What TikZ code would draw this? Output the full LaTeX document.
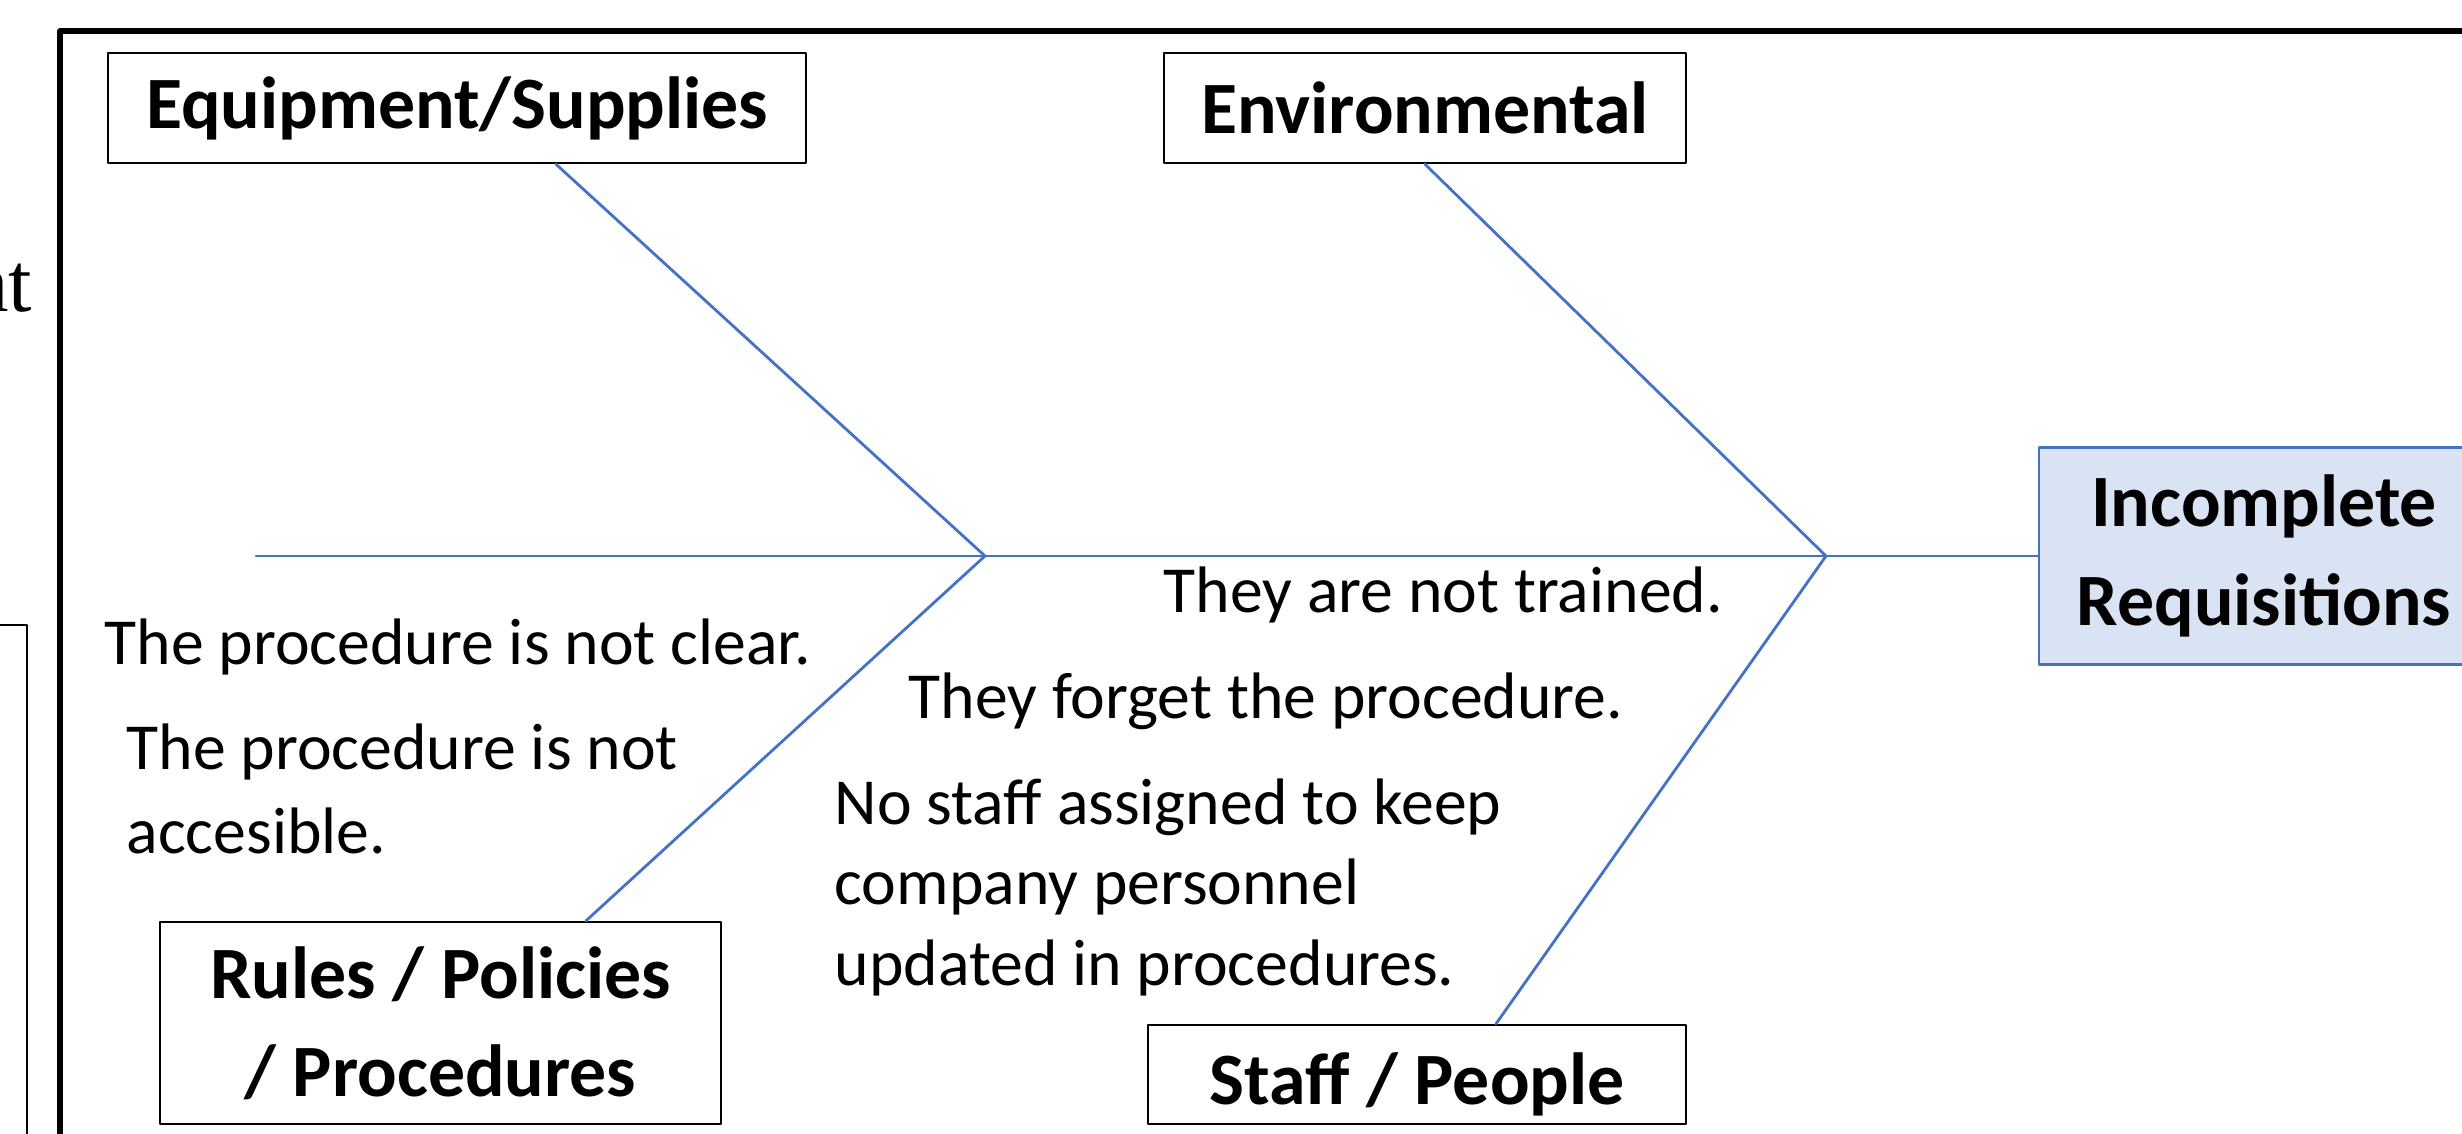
\documentclass[tikz,border=0pt]{standalone}
\usepackage{fontspec}
\setmainfont{Carlito}
\newfontfamily\pageserif{Liberation Serif}
\usetikzlibrary{calc}

\definecolor{boneblue}{HTML}{4472C4}
\definecolor{effectfill}{HTML}{DAE3F3}

\newcommand{\causefont}{\fontsize{18.7}{22.8}\selectfont}
\newcommand{\headfont}{\fontsize{21}{28}\selectfont\bfseries}

\begin{document}
\begin{tikzpicture}[line cap=round,line join=round,x=1cm,y=1cm,
        bone/.style={line width=0.8pt,color=boneblue},
        headbox/.style={draw=black,line width=0.7pt,fill=white,inner sep=0pt,font=\headfont},
        effectbox/.style={draw=boneblue,line width=0.8pt,fill=effectfill,inner sep=0pt,font=\headfont},
        cause/.style={inner sep=0pt,font=\causefont}]
        \useasboundingbox (0,0) rectangle (24.62,11.33);
        % page around the diagram
        \draw [line width=1.6pt,color=black] (0.60,-1)-- (0.60,11.02)-- (26,11.02);
        \draw [line width=0.6pt,color=black] (-1,5.08)-- (0.27,5.08)-- (0.27,-1);
        \node [anchor=base east,inner sep=0pt,font=\pageserif\fontsize{24}{28}\selectfont] (pagetext) at (0.33,8.22) {at};
        % category boxes
        \node [headbox,minimum width=6.98cm,minimum height=1.10cm] (equip) at (4.57,10.25) {Equipment/Supplies};
        \node [headbox,minimum width=5.22cm,minimum height=1.10cm] (envir) at (14.25,10.25) {Environmental};
        \node [headbox,minimum width=5.61cm,minimum height=2.02cm,align=center] (rules) at (4.405,1.10) {Rules / Policies\\/ Procedures};
        \node [headbox,minimum width=5.38cm,minimum height=0.99cm,text height=0.62cm,text depth=0.03cm] (staff) at (14.17,0.585) {Staff / People};
        \node [effectbox,minimum width=4.50cm,minimum height=2.17cm,align=center] (effect) at (22.64,5.77) {Incomplete\\Requisitions};
        % spine
        \coordinate (tail) at (2.56,5.77);
        \coordinate (jointA) at (9.85,5.77);
        \coordinate (jointB) at (18.26,5.77);
        \draw [bone] (tail)-- (jointA)-- (jointB)-- (effect.west);
        \draw [bone] ([xshift=9.9mm]equip.south)-- (jointA);
        \draw [bone] ([xshift=14.55mm]rules.north)-- (jointA);
        \draw [bone] (envir.south)-- (jointB);
        \draw [bone] ([xshift=7.9mm]staff.north)-- (jointB);
        % causes (multi-line ones sit on their last line)
        \node [cause,anchor=base west] (trained) at (11.63,5.21) {They are not trained.};
        \node [cause,anchor=base west] (unclear) at (1.04,4.69) {The procedure is not clear.};
        \node [cause,anchor=base west] (forget) at (9.08,4.15) {They forget the procedure.};
        \node [cause,anchor=base west,align=left] (access) at (1.26,2.80) {The procedure is not\\[1pt]accesible.};
        \node [cause,anchor=base west,align=left] (nostaff) at (8.34,1.48) {No staff assigned to keep\\company personnel\\updated in procedures.};
    \end{tikzpicture}
\end{document}
